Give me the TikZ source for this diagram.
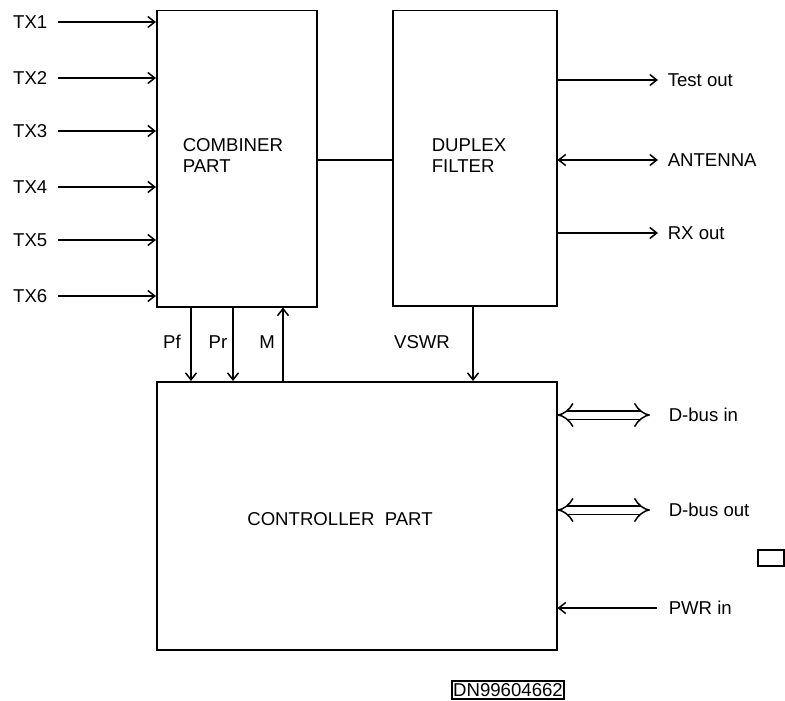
\documentclass[tikz,border=0pt]{standalone}
\usepackage{fontspec}
\setmainfont{Liberation Sans}
\usetikzlibrary{arrows.meta, positioning}

\begin{document}
\begin{tikzpicture}[x=0.5pt, y=-0.5pt, line width=0.75pt,
    every node/.style={font=\fontsize{9.3}{10.5}\selectfont, inner sep=0pt},
    >={Straight Barb[length=3.5pt, width=5.5pt]},
    bus/.style={double, double distance=3.5pt, {Implies}-{Implies}}]

    \useasboundingbox (0,0) rectangle (785,700);

    % BLOCKS
    \node[draw, anchor=north west, minimum width=80pt, minimum height=148pt] (comb) at (156,10) {};
    \node[draw, anchor=north west, minimum width=82pt, minimum height=147.5pt] (dup) at (392,10) {};
    \node[draw, anchor=north west, minimum width=200pt, minimum height=134pt] (ctrl) at (156,381) {};
    \node[anchor=west, align=left] (combtxt) at (182,156) {COMBINER\\PART};
    \node[anchor=west, align=left] (duptxt) at (431,156) {DUPLEX\\FILTER};
    \node (ctrltxt) at (340,519) {CONTROLLER\ \ PART};

    % COMBINER -- DUPLEX
    \coordinate (midy) at (0,160);
    \draw (comb.east |- midy) -- (dup.west |- midy);

    % TX INPUTS
    \foreach \i/\y in {1/22, 2/78, 3/131, 4/187, 5/240, 6/296}{
        \node[anchor=east] (tx\i) at (48,\y) {TX\i};
        \draw[->] ([xshift=5pt]tx\i.east) -- (tx\i -| comb.west);
    }

    % DUPLEX OUTPUTS
    \node[anchor=west] (test) at (667,80) {Test out};
    \node[anchor=west] (ant) at (667,160) {ANTENNA};
    \node[anchor=west] (rx) at (667,233) {RX out};
    \draw[->] (test -| dup.east) -- ([xshift=-4.5pt]test.west);
    \draw[<->] (ant -| dup.east) -- ([xshift=-4.5pt]ant.west);
    \draw[->] (rx -| dup.east) -- ([xshift=-4.5pt]rx.west);

    % CONTROLLER LINKS
    \coordinate (pfx) at (191,0);
    \coordinate (prx) at (233,0);
    \coordinate (mx) at (283,0);
    \coordinate (vswrx) at (473,0);
    \node (pf) at (172,342) {Pf};
    \node (pr) at (218,342) {Pr};
    \node (m) at (267,342) {M};
    \node (vswr) at (422,342) {VSWR};
    \draw[->] (comb.south -| pfx) -- (ctrl.north -| pfx);
    \draw[->] (comb.south -| prx) -- (ctrl.north -| prx);
    \draw[->] (ctrl.north -| mx) -- (comb.south -| mx);
    \draw[->] (dup.south -| vswrx) -- (ctrl.north -| vswrx);

    % CONTROLLER I/O
    \node[anchor=west] (dbin) at (668,415) {D-bus in};
    \node[anchor=west] (dbout) at (668,510) {D-bus out};
    \node[anchor=west] (pwr) at (668,608) {PWR in};
    \draw[bus] (dbin -| ctrl.east) -- ([xshift=-9pt]dbin.west);
    \draw[bus] (dbout -| ctrl.east) -- ([xshift=-9pt]dbout.west);
    \draw[->] ([xshift=-5.5pt]pwr.west) -- (pwr -| ctrl.east);

    % MISC
    \node[draw, anchor=north west, minimum width=13pt, minimum height=8pt] (mark) at (757,549) {};
    \node[draw, inner sep=0.6pt, minimum height=9pt] (dn) at (508,690) {DN99604662};

\end{tikzpicture}
\end{document}
